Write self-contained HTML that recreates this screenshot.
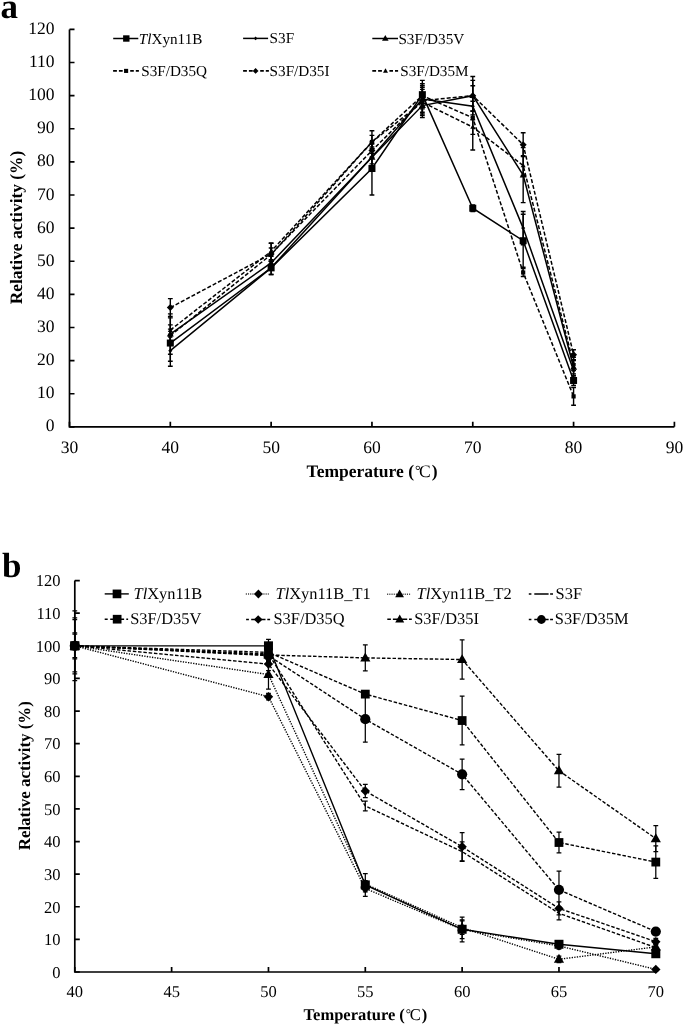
<!DOCTYPE html>
<html><head><meta charset="utf-8"><title>Chart</title>
<style>
html,body{margin:0;padding:0;background:#fff;}
body{width:685px;height:1026px;overflow:hidden;}
svg{display:block;filter:blur(0.3px);font-family:"Liberation Serif", serif;text-rendering:geometricPrecision;}
</style></head>
<body>
<svg width="685" height="1026" viewBox="0 0 685 1026" fill="#000">
<text x="0.6" y="18.4" font-size="35" font-weight="bold">a</text>
<path d="M69.5 29.4V426.85H674.4" fill="none" stroke="#000" stroke-width="1.7"/>
<text x="54.6" y="431.45" font-size="17.5" text-anchor="end">0</text>
<text x="54.6" y="398.33" font-size="17.5" text-anchor="end">10</text>
<text x="54.6" y="365.21" font-size="17.5" text-anchor="end">20</text>
<text x="54.6" y="332.09" font-size="17.5" text-anchor="end">30</text>
<text x="54.6" y="298.97" font-size="17.5" text-anchor="end">40</text>
<text x="54.6" y="265.85" font-size="17.5" text-anchor="end">50</text>
<text x="54.6" y="232.72" font-size="17.5" text-anchor="end">60</text>
<text x="54.6" y="199.6" font-size="17.5" text-anchor="end">70</text>
<text x="54.6" y="166.48" font-size="17.5" text-anchor="end">80</text>
<text x="54.6" y="133.36" font-size="17.5" text-anchor="end">90</text>
<text x="54.6" y="100.24" font-size="17.5" text-anchor="end">100</text>
<text x="54.6" y="67.12" font-size="17.5" text-anchor="end">110</text>
<text x="54.6" y="34" font-size="17.5" text-anchor="end">120</text>
<text x="69.5" y="452.6" font-size="17.5" text-anchor="middle">30</text>
<text x="170.32" y="452.6" font-size="17.5" text-anchor="middle">40</text>
<text x="271.13" y="452.6" font-size="17.5" text-anchor="middle">50</text>
<text x="371.95" y="452.6" font-size="17.5" text-anchor="middle">60</text>
<text x="472.77" y="452.6" font-size="17.5" text-anchor="middle">70</text>
<text x="573.58" y="452.6" font-size="17.5" text-anchor="middle">80</text>
<text x="674.4" y="452.6" font-size="17.5" text-anchor="middle">90</text>
<path d="M69.5 426.85h5 M69.5 393.73h5 M69.5 360.61h5 M69.5 327.49h5 M69.5 294.37h5 M69.5 261.25h5 M69.5 228.12h5 M69.5 195h5 M69.5 161.88h5 M69.5 128.76h5 M69.5 95.64h5 M69.5 62.52h5 M69.5 29.4h5 M69.5 426.85v-5 M170.32 426.85v-5 M271.13 426.85v-5 M371.95 426.85v-5 M472.77 426.85v-5 M573.58 426.85v-5 M674.4 426.85v-5" stroke="#000" stroke-width="1.7" fill="none"/>
<polyline points="170.32,343.05 271.13,267.87 371.95,168.51 422.36,94.65 472.77,208.25 523.17,240.71 573.58,380.48" fill="none" stroke="#000" stroke-width="1.5"/>
<polyline points="170.32,350.67 271.13,267.87 371.95,156.92 422.36,98.95 472.77,106.24 523.17,228.12 573.58,370.54" fill="none" stroke="#000" stroke-width="1.5"/>
<polyline points="170.32,334.11 271.13,262.9 371.95,157.25 422.36,105.58 472.77,95.64 523.17,175.13 573.58,367.23" fill="none" stroke="#000" stroke-width="1.5"/>
<polyline points="170.32,335.77 271.13,254.62 371.95,142.01 422.36,95.64 472.77,117.83 523.17,272.51 573.58,396.38" fill="none" stroke="#000" stroke-width="1.5" stroke-dasharray="4 2"/>
<polyline points="170.32,307.62 271.13,253.96 371.95,150.62 422.36,100.61 472.77,95.64 523.17,144.66 573.58,354.65" fill="none" stroke="#000" stroke-width="1.5" stroke-dasharray="4 2"/>
<polyline points="170.32,330.14 271.13,251.31 371.95,142.01 422.36,102.27 472.77,127.11 523.17,165.53 573.58,363.92" fill="none" stroke="#000" stroke-width="1.5" stroke-dasharray="4 2"/>
<path d="M170.32 324.84V361.27M167.92 324.84H172.72M167.92 361.27H172.72" stroke="#000" stroke-width="1.4" fill="none"/>
<path d="M271.13 261.25V274.49M268.73 261.25H273.53M268.73 274.49H273.53" stroke="#000" stroke-width="1.4" fill="none"/>
<path d="M371.95 142.01V195M369.55 142.01H374.35M369.55 195H374.35" stroke="#000" stroke-width="1.4" fill="none"/>
<path d="M422.36 80.41V108.89M419.96 80.41H424.76M419.96 108.89H424.76" stroke="#000" stroke-width="1.4" fill="none"/>
<path d="M472.77 204.94V211.56M470.37 204.94H475.17M470.37 211.56H475.17" stroke="#000" stroke-width="1.4" fill="none"/>
<path d="M523.17 214.21V267.21M520.77 214.21H525.57M520.77 267.21H525.57" stroke="#000" stroke-width="1.4" fill="none"/>
<path d="M573.58 375.51V385.45M571.18 375.51H575.98M571.18 385.45H575.98" stroke="#000" stroke-width="1.4" fill="none"/>
<path d="M170.32 335.11V366.24M167.92 335.11H172.72M167.92 366.24H172.72" stroke="#000" stroke-width="1.4" fill="none"/>
<path d="M271.13 261.25V274.49M268.73 261.25H273.53M268.73 274.49H273.53" stroke="#000" stroke-width="1.4" fill="none"/>
<path d="M371.95 146.98V166.85M369.55 146.98H374.35M369.55 166.85H374.35" stroke="#000" stroke-width="1.4" fill="none"/>
<path d="M422.36 85.71V112.2M419.96 85.71H424.76M419.96 112.2H424.76" stroke="#000" stroke-width="1.4" fill="none"/>
<path d="M472.77 101.27V111.21M470.37 101.27H475.17M470.37 111.21H475.17" stroke="#000" stroke-width="1.4" fill="none"/>
<path d="M523.17 211.56V244.69M520.77 211.56H525.57M520.77 244.69H525.57" stroke="#000" stroke-width="1.4" fill="none"/>
<path d="M573.58 363.92V377.17M571.18 363.92H575.98M571.18 377.17H575.98" stroke="#000" stroke-width="1.4" fill="none"/>
<path d="M170.32 313.91V354.32M167.92 313.91H172.72M167.92 354.32H172.72" stroke="#000" stroke-width="1.4" fill="none"/>
<path d="M271.13 256.28V269.53M268.73 256.28H273.53M268.73 269.53H273.53" stroke="#000" stroke-width="1.4" fill="none"/>
<path d="M371.95 150.62V163.87M369.55 150.62H374.35M369.55 163.87H374.35" stroke="#000" stroke-width="1.4" fill="none"/>
<path d="M422.36 93.65V117.5M419.96 93.65H424.76M419.96 117.5H424.76" stroke="#000" stroke-width="1.4" fill="none"/>
<path d="M472.77 76.43V114.85M470.37 76.43H475.17M470.37 114.85H475.17" stroke="#000" stroke-width="1.4" fill="none"/>
<path d="M523.17 147.64V202.62M520.77 147.64H525.57M520.77 202.62H525.57" stroke="#000" stroke-width="1.4" fill="none"/>
<path d="M573.58 360.61V373.86M571.18 360.61H575.98M571.18 373.86H575.98" stroke="#000" stroke-width="1.4" fill="none"/>
<path d="M170.32 329.14V342.39M167.92 329.14H172.72M167.92 342.39H172.72" stroke="#000" stroke-width="1.4" fill="none"/>
<path d="M271.13 248V261.25M268.73 248H273.53M268.73 261.25H273.53" stroke="#000" stroke-width="1.4" fill="none"/>
<path d="M371.95 135.39V148.63M369.55 135.39H374.35M369.55 148.63H374.35" stroke="#000" stroke-width="1.4" fill="none"/>
<path d="M422.36 83.72V107.57M419.96 83.72H424.76M419.96 107.57H424.76" stroke="#000" stroke-width="1.4" fill="none"/>
<path d="M472.77 85.71V149.96M470.37 85.71H475.17M470.37 149.96H475.17" stroke="#000" stroke-width="1.4" fill="none"/>
<path d="M523.17 268.53V276.48M520.77 268.53H525.57M520.77 276.48H525.57" stroke="#000" stroke-width="1.4" fill="none"/>
<path d="M573.58 387.44V405.32M571.18 387.44H575.98M571.18 405.32H575.98" stroke="#000" stroke-width="1.4" fill="none"/>
<path d="M170.32 298.67V316.56M167.92 298.67H172.72M167.92 316.56H172.72" stroke="#000" stroke-width="1.4" fill="none"/>
<path d="M271.13 243.36V264.56M268.73 243.36H273.53M268.73 264.56H273.53" stroke="#000" stroke-width="1.4" fill="none"/>
<path d="M371.95 144V157.25M369.55 144H374.35M369.55 157.25H374.35" stroke="#000" stroke-width="1.4" fill="none"/>
<path d="M422.36 87.36V113.86M419.96 87.36H424.76M419.96 113.86H424.76" stroke="#000" stroke-width="1.4" fill="none"/>
<path d="M472.77 80.41V110.88M470.37 80.41H475.17M470.37 110.88H475.17" stroke="#000" stroke-width="1.4" fill="none"/>
<path d="M523.17 132.74V156.58M520.77 132.74H525.57M520.77 156.58H525.57" stroke="#000" stroke-width="1.4" fill="none"/>
<path d="M573.58 349.68V359.61M571.18 349.68H575.98M571.18 359.61H575.98" stroke="#000" stroke-width="1.4" fill="none"/>
<path d="M170.32 317.88V342.39M167.92 317.88H172.72M167.92 342.39H172.72" stroke="#000" stroke-width="1.4" fill="none"/>
<path d="M271.13 243.03V259.59M268.73 243.03H273.53M268.73 259.59H273.53" stroke="#000" stroke-width="1.4" fill="none"/>
<path d="M371.95 130.75V153.27M369.55 130.75H374.35M369.55 153.27H374.35" stroke="#000" stroke-width="1.4" fill="none"/>
<path d="M422.36 89.35V115.18M419.96 89.35H424.76M419.96 115.18H424.76" stroke="#000" stroke-width="1.4" fill="none"/>
<path d="M472.77 119.82V134.39M470.37 119.82H475.17M470.37 134.39H475.17" stroke="#000" stroke-width="1.4" fill="none"/>
<path d="M523.17 155.59V175.46M520.77 155.59H525.57M520.77 175.46H525.57" stroke="#000" stroke-width="1.4" fill="none"/>
<path d="M573.58 357.3V370.54M571.18 357.3H575.98M571.18 370.54H575.98" stroke="#000" stroke-width="1.4" fill="none"/>
<rect x="166.82" y="339.55" width="7" height="7"/>
<rect x="267.63" y="264.37" width="7" height="7"/>
<rect x="368.45" y="165.01" width="7" height="7"/>
<rect x="418.86" y="91.15" width="7" height="7"/>
<rect x="469.27" y="204.75" width="7" height="7"/>
<rect x="519.67" y="237.21" width="7" height="7"/>
<rect x="570.08" y="376.98" width="7" height="7"/>
<path d="M170.32 348.57L172.42 350.67L170.32 352.77L168.22 350.67Z"/>
<path d="M271.13 265.77L273.23 267.87L271.13 269.97L269.03 267.87Z"/>
<path d="M371.95 154.82L374.05 156.92L371.95 159.02L369.85 156.92Z"/>
<path d="M422.36 96.85L424.46 98.95L422.36 101.05L420.26 98.95Z"/>
<path d="M472.77 104.14L474.87 106.24L472.77 108.34L470.67 106.24Z"/>
<path d="M523.17 226.03L525.27 228.12L523.17 230.22L521.07 228.12Z"/>
<path d="M573.58 368.44L575.68 370.54L573.58 372.64L571.48 370.54Z"/>
<path d="M170.32 330.4L173.82 336.56L166.82 336.56Z"/>
<path d="M271.13 259.19L274.63 265.35L267.63 265.35Z"/>
<path d="M371.95 153.54L375.45 159.7L368.45 159.7Z"/>
<path d="M422.36 101.87L425.86 108.03L418.86 108.03Z"/>
<path d="M472.77 91.93L476.27 98.09L469.27 98.09Z"/>
<path d="M523.17 171.42L526.67 177.58L519.67 177.58Z"/>
<path d="M573.58 363.52L577.08 369.68L570.08 369.68Z"/>
<rect x="168.22" y="333.67" width="4.2" height="4.2"/>
<rect x="269.03" y="252.52" width="4.2" height="4.2"/>
<rect x="369.85" y="139.91" width="4.2" height="4.2"/>
<rect x="420.26" y="93.54" width="4.2" height="4.2"/>
<rect x="470.67" y="115.73" width="4.2" height="4.2"/>
<rect x="521.07" y="270.41" width="4.2" height="4.2"/>
<rect x="571.48" y="394.28" width="4.2" height="4.2"/>
<path d="M170.32 304.12L173.82 307.62L170.32 311.12L166.82 307.62Z"/>
<path d="M271.13 250.46L274.63 253.96L271.13 257.46L267.63 253.96Z"/>
<path d="M371.95 147.12L375.45 150.62L371.95 154.12L368.45 150.62Z"/>
<path d="M422.36 97.11L425.86 100.61L422.36 104.11L418.86 100.61Z"/>
<path d="M472.77 92.14L476.27 95.64L472.77 99.14L469.27 95.64Z"/>
<path d="M523.17 141.16L526.67 144.66L523.17 148.16L519.67 144.66Z"/>
<path d="M573.58 351.15L577.08 354.65L573.58 358.15L570.08 354.65Z"/>
<path d="M170.32 327.49L172.82 331.89L167.82 331.89Z"/>
<path d="M271.13 248.66L273.63 253.06L268.63 253.06Z"/>
<path d="M371.95 139.36L374.45 143.76L369.45 143.76Z"/>
<path d="M422.36 99.62L424.86 104.02L419.86 104.02Z"/>
<path d="M472.77 124.46L475.27 128.86L470.27 128.86Z"/>
<path d="M523.17 162.88L525.67 167.28L520.67 167.28Z"/>
<path d="M573.58 361.27L576.08 365.67L571.08 365.67Z"/>
<path d="M113.2 38.5H138.3" stroke="#000" stroke-width="1.5" fill="none"/>
<rect x="123.1" y="35.3" width="6.4" height="6.4"/>
<text x="138.8" y="43.52" font-size="15.2"><tspan font-style="italic">Tl</tspan>Xyn11B</text>
<path d="M243.1 38.4H268.1" stroke="#000" stroke-width="1.5" fill="none"/>
<path d="M255.6 36.6L257.4 38.4L255.6 40.2L253.8 38.4Z"/>
<text x="269.6" y="43.42" font-size="15.2">S3F</text>
<path d="M372.3 38.5H398" stroke="#000" stroke-width="1.5" fill="none"/>
<path d="M385.3 35L388.6 40.81L382 40.81Z"/>
<text x="398.4" y="43.52" font-size="15.2">S3F/D35V</text>
<path d="M113.1 70.9H116.9M118.9 70.9H122.7M130.2 70.9H133.8M135.8 70.9H138.9" stroke="#000" stroke-width="1.6" fill="none"/>
<rect x="124.05" y="68.85" width="4.1" height="4.1"/>
<text x="141.2" y="75.92" font-size="15.2">S3F/D35Q</text>
<path d="M243.1 70.9H246.9M248.9 70.9H252.7M260.2 70.9H263.8M265.8 70.9H268.9" stroke="#000" stroke-width="1.6" fill="none"/>
<path d="M255.6 68L258.5 70.9L255.6 73.8L252.7 70.9Z"/>
<text x="269.6" y="75.92" font-size="15.2">S3F/D35I</text>
<path d="M372.3 70.9H376.1M378.1 70.9H381.9M389.4 70.9H393M395 70.9H398.1" stroke="#000" stroke-width="1.6" fill="none"/>
<path d="M385.5 68.25L388 72.65L383 72.65Z"/>
<text x="400.2" y="75.92" font-size="15.2">S3F/D35M</text>
<text x="306.6" y="477" font-size="17.5" font-weight="bold">Temperature (<tspan font-weight="normal" font-size="14" dx="0.9" dy="-2.4">°</tspan><tspan font-weight="normal" dx="-1.5" dy="2.4">C</tspan><tspan dx="1.0">)</tspan></text>
<text transform="translate(22.0 227.5) rotate(-90)" font-size="17.4" font-weight="bold" text-anchor="middle">Relative activity (%)</text>
<text x="2" y="577.3" font-size="35" font-weight="bold">b</text>
<path d="M74.8 580.6V972H655.8" fill="none" stroke="#000" stroke-width="1.7"/>
<text x="60.6" y="977.8" font-size="16.5" text-anchor="end">0</text>
<text x="60.6" y="945.18" font-size="16.5" text-anchor="end">10</text>
<text x="60.6" y="912.57" font-size="16.5" text-anchor="end">20</text>
<text x="60.6" y="879.95" font-size="16.5" text-anchor="end">30</text>
<text x="60.6" y="847.33" font-size="16.5" text-anchor="end">40</text>
<text x="60.6" y="814.72" font-size="16.5" text-anchor="end">50</text>
<text x="60.6" y="782.1" font-size="16.5" text-anchor="end">60</text>
<text x="60.6" y="749.48" font-size="16.5" text-anchor="end">70</text>
<text x="60.6" y="716.87" font-size="16.5" text-anchor="end">80</text>
<text x="60.6" y="684.25" font-size="16.5" text-anchor="end">90</text>
<text x="60.6" y="651.63" font-size="16.5" text-anchor="end">100</text>
<text x="60.6" y="619.02" font-size="16.5" text-anchor="end">110</text>
<text x="60.6" y="586.4" font-size="16.5" text-anchor="end">120</text>
<text x="74.8" y="997" font-size="16.5" text-anchor="middle">40</text>
<text x="171.63" y="997" font-size="16.5" text-anchor="middle">45</text>
<text x="268.47" y="997" font-size="16.5" text-anchor="middle">50</text>
<text x="365.3" y="997" font-size="16.5" text-anchor="middle">55</text>
<text x="462.13" y="997" font-size="16.5" text-anchor="middle">60</text>
<text x="558.97" y="997" font-size="16.5" text-anchor="middle">65</text>
<text x="655.8" y="997" font-size="16.5" text-anchor="middle">70</text>
<path d="M74.8 972h5 M74.8 939.38h5 M74.8 906.77h5 M74.8 874.15h5 M74.8 841.53h5 M74.8 808.92h5 M74.8 776.3h5 M74.8 743.68h5 M74.8 711.07h5 M74.8 678.45h5 M74.8 645.83h5 M74.8 613.22h5 M74.8 580.6h5 M74.8 972v-5 M171.63 972v-5 M268.47 972v-5 M365.3 972v-5 M462.13 972v-5 M558.97 972v-5 M655.8 972v-5" stroke="#000" stroke-width="1.7" fill="none"/>
<polyline points="74.8,645.83 268.47,645.83 365.3,884.91 462.13,929.27 558.97,944.28 655.8,953.73" fill="none" stroke="#000" stroke-width="1.4"/>
<polyline points="74.8,645.83 268.47,696.72 365.3,888.5 462.13,929.6 558.97,945.91 655.8,969.39" fill="none" stroke="#000" stroke-width="1.4" stroke-dasharray="1.3 1.3"/>
<polyline points="74.8,645.83 268.47,674.54 365.3,883.93 462.13,927.64 558.97,959.28 655.8,946.89" fill="none" stroke="#000" stroke-width="1.4" stroke-dasharray="1.3 1.3"/>
<polyline points="74.8,645.83 268.47,653.99 365.3,805.98 462.13,851.64 558.97,913.29 655.8,947.54" fill="none" stroke="#000" stroke-width="1.4" stroke-dasharray="3.5 1.8"/>
<polyline points="74.8,645.83 268.47,652.36 365.3,694.11 462.13,720.53 558.97,842.51 655.8,862.08" fill="none" stroke="#000" stroke-width="1.4" stroke-dasharray="3.5 1.8"/>
<polyline points="74.8,645.83 268.47,664.1 365.3,790.98 462.13,846.75 558.97,908.4 655.8,941.67" fill="none" stroke="#000" stroke-width="1.4" stroke-dasharray="3.5 1.8"/>
<polyline points="74.8,645.83 268.47,654.97 365.3,657.9 462.13,659.53 558.97,770.76 655.8,838.6" fill="none" stroke="#000" stroke-width="1.4" stroke-dasharray="3.5 1.8"/>
<polyline points="74.8,645.83 268.47,655.62 365.3,719.22 462.13,774.34 558.97,889.81 655.8,931.56" fill="none" stroke="#000" stroke-width="1.4" stroke-dasharray="3.5 1.8"/>
<path d="M365.3 873.5V896.33M362.9 873.5H367.7M362.9 896.33H367.7" stroke="#000" stroke-width="1.25" fill="none"/>
<path d="M462.13 919.81V938.73M459.73 919.81H464.53M459.73 938.73H464.53" stroke="#000" stroke-width="1.25" fill="none"/>
<path d="M558.97 941.01V947.54M556.57 941.01H561.37M556.57 947.54H561.37" stroke="#000" stroke-width="1.25" fill="none"/>
<path d="M655.8 950.47V957M653.4 950.47H658.2M653.4 957H658.2" stroke="#000" stroke-width="1.25" fill="none"/>
<path d="M268.47 693.45V699.98M266.07 693.45H270.87M266.07 699.98H270.87" stroke="#000" stroke-width="1.25" fill="none"/>
<path d="M365.3 885.24V891.76M362.9 885.24H367.7M362.9 891.76H367.7" stroke="#000" stroke-width="1.25" fill="none"/>
<path d="M462.13 917.2V941.99M459.73 917.2H464.53M459.73 941.99H464.53" stroke="#000" stroke-width="1.25" fill="none"/>
<path d="M558.97 942.64V949.17M556.57 942.64H561.37M556.57 949.17H561.37" stroke="#000" stroke-width="1.25" fill="none"/>
<path d="M655.8 967.76V971.02M653.4 967.76H658.2M653.4 971.02H658.2" stroke="#000" stroke-width="1.25" fill="none"/>
<path d="M74.8 617.78V673.88M72.4 617.78H77.2M72.4 673.88H77.2" stroke="#000" stroke-width="1.25" fill="none"/>
<path d="M268.47 659.86V689.21M266.07 659.86H270.87M266.07 689.21H270.87" stroke="#000" stroke-width="1.25" fill="none"/>
<path d="M365.3 880.67V887.2M362.9 880.67H367.7M362.9 887.2H367.7" stroke="#000" stroke-width="1.25" fill="none"/>
<path d="M462.13 920.79V934.49M459.73 920.79H464.53M459.73 934.49H464.53" stroke="#000" stroke-width="1.25" fill="none"/>
<path d="M558.97 956.02V962.54M556.57 956.02H561.37M556.57 962.54H561.37" stroke="#000" stroke-width="1.25" fill="none"/>
<path d="M655.8 943.62V950.15M653.4 943.62H658.2M653.4 950.15H658.2" stroke="#000" stroke-width="1.25" fill="none"/>
<path d="M268.47 647.46V660.51M266.07 647.46H270.87M266.07 660.51H270.87" stroke="#000" stroke-width="1.25" fill="none"/>
<path d="M365.3 801.09V810.87M362.9 801.09H367.7M362.9 810.87H367.7" stroke="#000" stroke-width="1.25" fill="none"/>
<path d="M462.13 841.86V861.43M459.73 841.86H464.53M459.73 861.43H464.53" stroke="#000" stroke-width="1.25" fill="none"/>
<path d="M558.97 906.77V919.81M556.57 906.77H561.37M556.57 919.81H561.37" stroke="#000" stroke-width="1.25" fill="none"/>
<path d="M655.8 944.28V950.8M653.4 944.28H658.2M653.4 950.8H658.2" stroke="#000" stroke-width="1.25" fill="none"/>
<path d="M74.8 610.93V680.73M72.4 610.93H77.2M72.4 680.73H77.2" stroke="#000" stroke-width="1.25" fill="none"/>
<path d="M268.47 639.31V665.4M266.07 639.31H270.87M266.07 665.4H270.87" stroke="#000" stroke-width="1.25" fill="none"/>
<path d="M365.3 690.84V697.37M362.9 690.84H367.7M362.9 697.37H367.7" stroke="#000" stroke-width="1.25" fill="none"/>
<path d="M462.13 696.06V744.99M459.73 696.06H464.53M459.73 744.99H464.53" stroke="#000" stroke-width="1.25" fill="none"/>
<path d="M558.97 832.07V852.95M556.57 832.07H561.37M556.57 852.95H561.37" stroke="#000" stroke-width="1.25" fill="none"/>
<path d="M655.8 845.77V878.39M653.4 845.77H658.2M653.4 878.39H658.2" stroke="#000" stroke-width="1.25" fill="none"/>
<path d="M74.8 634.09V657.58M72.4 634.09H77.2M72.4 657.58H77.2" stroke="#000" stroke-width="1.25" fill="none"/>
<path d="M268.47 657.58V670.62M266.07 657.58H270.87M266.07 670.62H270.87" stroke="#000" stroke-width="1.25" fill="none"/>
<path d="M365.3 784.45V797.5M362.9 784.45H367.7M362.9 797.5H367.7" stroke="#000" stroke-width="1.25" fill="none"/>
<path d="M462.13 832.73V860.78M459.73 832.73H464.53M459.73 860.78H464.53" stroke="#000" stroke-width="1.25" fill="none"/>
<path d="M558.97 901.87V914.92M556.57 901.87H561.37M556.57 914.92H561.37" stroke="#000" stroke-width="1.25" fill="none"/>
<path d="M655.8 938.4V944.93M653.4 938.4H658.2M653.4 944.93H658.2" stroke="#000" stroke-width="1.25" fill="none"/>
<path d="M74.8 619.74V671.93M72.4 619.74H77.2M72.4 671.93H77.2" stroke="#000" stroke-width="1.25" fill="none"/>
<path d="M268.47 648.44V661.49M266.07 648.44H270.87M266.07 661.49H270.87" stroke="#000" stroke-width="1.25" fill="none"/>
<path d="M365.3 644.85V670.95M362.9 644.85H367.7M362.9 670.95H367.7" stroke="#000" stroke-width="1.25" fill="none"/>
<path d="M462.13 639.96V679.1M459.73 639.96H464.53M459.73 679.1H464.53" stroke="#000" stroke-width="1.25" fill="none"/>
<path d="M558.97 754.45V787.06M556.57 754.45H561.37M556.57 787.06H561.37" stroke="#000" stroke-width="1.25" fill="none"/>
<path d="M655.8 825.55V851.64M653.4 825.55H658.2M653.4 851.64H658.2" stroke="#000" stroke-width="1.25" fill="none"/>
<path d="M74.8 632.79V658.88M72.4 632.79H77.2M72.4 658.88H77.2" stroke="#000" stroke-width="1.25" fill="none"/>
<path d="M268.47 649.1V662.14M266.07 649.1H270.87M266.07 662.14H270.87" stroke="#000" stroke-width="1.25" fill="none"/>
<path d="M365.3 696.39V742.05M362.9 696.39H367.7M362.9 742.05H367.7" stroke="#000" stroke-width="1.25" fill="none"/>
<path d="M462.13 759.01V789.67M459.73 759.01H464.53M459.73 789.67H464.53" stroke="#000" stroke-width="1.25" fill="none"/>
<path d="M558.97 871.21V908.4M556.57 871.21H561.37M556.57 908.4H561.37" stroke="#000" stroke-width="1.25" fill="none"/>
<path d="M655.8 928.29V934.82M653.4 928.29H658.2M653.4 934.82H658.2" stroke="#000" stroke-width="1.25" fill="none"/>
<rect x="70.3" y="641.33" width="9" height="9"/>
<rect x="263.97" y="641.33" width="9" height="9"/>
<rect x="360.8" y="880.41" width="9" height="9"/>
<rect x="457.63" y="924.77" width="9" height="9"/>
<rect x="554.47" y="939.78" width="9" height="9"/>
<rect x="651.3" y="949.23" width="9" height="9"/>
<path d="M74.8 641.13L79.5 645.83L74.8 650.53L70.1 645.83Z"/>
<path d="M268.47 692.02L273.17 696.72L268.47 701.42L263.77 696.72Z"/>
<path d="M365.3 883.8L370 888.5L365.3 893.2L360.6 888.5Z"/>
<path d="M462.13 924.9L466.83 929.6L462.13 934.3L457.43 929.6Z"/>
<path d="M558.97 941.21L563.67 945.91L558.97 950.61L554.27 945.91Z"/>
<path d="M655.8 964.69L660.5 969.39L655.8 974.09L651.1 969.39Z"/>
<path d="M74.8 640.43L79.9 649.4L69.7 649.4Z"/>
<path d="M268.47 669.13L273.57 678.11L263.37 678.11Z"/>
<path d="M365.3 878.53L370.4 887.5L360.2 887.5Z"/>
<path d="M462.13 922.24L467.23 931.21L457.03 931.21Z"/>
<path d="M558.97 953.87L564.07 962.85L553.87 962.85Z"/>
<path d="M655.8 941.48L660.9 950.46L650.7 950.46Z"/>
<rect x="70.4" y="641.43" width="8.8" height="8.8"/>
<rect x="264.07" y="647.96" width="8.8" height="8.8"/>
<rect x="360.9" y="689.71" width="8.8" height="8.8"/>
<rect x="457.73" y="716.13" width="8.8" height="8.8"/>
<rect x="554.57" y="838.11" width="8.8" height="8.8"/>
<rect x="651.4" y="857.68" width="8.8" height="8.8"/>
<path d="M74.8 641.13L79.5 645.83L74.8 650.53L70.1 645.83Z"/>
<path d="M268.47 659.4L273.17 664.1L268.47 668.8L263.77 664.1Z"/>
<path d="M365.3 786.28L370 790.98L365.3 795.68L360.6 790.98Z"/>
<path d="M462.13 842.05L466.83 846.75L462.13 851.45L457.43 846.75Z"/>
<path d="M558.97 903.7L563.67 908.4L558.97 913.1L554.27 908.4Z"/>
<path d="M655.8 936.97L660.5 941.67L655.8 946.37L651.1 941.67Z"/>
<path d="M74.8 640.43L79.9 649.4L69.7 649.4Z"/>
<path d="M268.47 649.56L273.57 658.54L263.37 658.54Z"/>
<path d="M365.3 652.5L370.4 661.47L360.2 661.47Z"/>
<path d="M462.13 654.13L467.23 663.1L457.03 663.1Z"/>
<path d="M558.97 765.35L564.07 774.33L553.87 774.33Z"/>
<path d="M655.8 833.19L660.9 842.17L650.7 842.17Z"/>
<circle cx="74.8" cy="645.83" r="5.1"/>
<circle cx="268.47" cy="655.62" r="5.1"/>
<circle cx="365.3" cy="719.22" r="5.1"/>
<circle cx="462.13" cy="774.34" r="5.1"/>
<circle cx="558.97" cy="889.81" r="5.1"/>
<circle cx="655.8" cy="931.56" r="5.1"/>
<path d="M104.7 593.9H128.8" stroke="#000" stroke-width="1.4" fill="none"/>
<rect x="112.65" y="589.55" width="8.7" height="8.7"/>
<text x="133.6" y="599" font-size="16.4"><tspan font-style="italic">Tl</tspan>Xyn11B</text>
<path d="M245.8 594H268.8" stroke="#444" stroke-width="1.6" fill="none" stroke-dasharray="1.1 1.1"/>
<path d="M258.4 589.6L262.8 594L258.4 598.4L254 594Z"/>
<text x="275.6" y="599" font-size="16.4"><tspan font-style="italic">Tl</tspan>Xyn11B_T1</text>
<path d="M387.1 594.2H410.1" stroke="#444" stroke-width="1.6" fill="none" stroke-dasharray="1.1 1.1"/>
<path d="M399.6 589.54L404 597.28L395.2 597.28Z"/>
<text x="416.6" y="599" font-size="16.4"><tspan font-style="italic">Tl</tspan>Xyn11B_T2</text>
<path d="M528.8 593.9H531.4M534.3 593.9H548.6M550.1 593.9H553" stroke="#000" stroke-width="1.5" fill="none"/>
<text x="555.6" y="599" font-size="16.4">S3F</text>
<path d="M104.7 619.2H107.7M110.2 619.2H124.1M126.3 619.2H128.1" stroke="#000" stroke-width="1.4" fill="none"/>
<rect x="112.8" y="614.85" width="8.7" height="8.7"/>
<text x="130.2" y="623.8" font-size="16.4">S3F/D35V</text>
<path d="M246.1 619.5H248.9M251.2 619.5H265.5M267.3 619.5H270.1" stroke="#000" stroke-width="1.4" fill="none"/>
<path d="M258.2 615.2L262.5 619.5L258.2 623.8L253.9 619.5Z"/>
<text x="273.5" y="623.8" font-size="16.4">S3F/D35Q</text>
<path d="M387.3 619.3H390.9M392.9 619.3H407.2M409 619.3H411.8" stroke="#000" stroke-width="1.4" fill="none"/>
<path d="M399.7 614.53L404.2 622.45L395.2 622.45Z"/>
<text x="414.2" y="623.8" font-size="16.4">S3F/D35I</text>
<path d="M528.8 619.5H531.4M534.3 619.5H548.6M550.1 619.5H553" stroke="#000" stroke-width="1.4" fill="none"/>
<circle cx="541.4" cy="619.5" r="4.4"/>
<text x="554.8" y="623.8" font-size="16.4">S3F/D35M</text>
<text x="303.6" y="1020.2" font-size="16.5" font-weight="bold">Temperature (<tspan font-weight="normal" font-size="13.2" dx="0.9" dy="-2.3">°</tspan><tspan font-weight="normal" dx="-1.4" dy="2.3">C</tspan><tspan dx="1.0">)</tspan></text>
<text transform="translate(29.6 775.7) rotate(-90)" font-size="16.9" font-weight="bold" text-anchor="middle">Relative activity (%)</text>
</svg>
</body></html>
